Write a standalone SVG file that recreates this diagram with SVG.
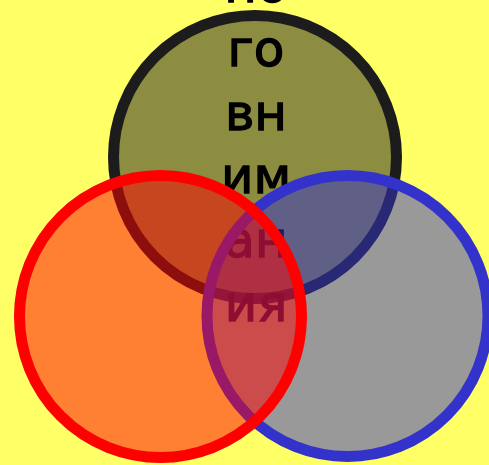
<svg xmlns="http://www.w3.org/2000/svg" width="489" height="465" viewBox="0 0 489 465">
<style>
.c{stroke-width:11;fill-opacity:0.5}
.t{font-family:"DejaVu Sans",sans-serif;font-size:50px;fill:#000;stroke:#000;stroke-width:1.3;text-anchor:middle}
</style>
<rect width="489" height="465" fill="#FFFF66"/>
<g id="top-circle">
<circle class="c" cx="255" cy="157" r="141.5" fill="#1C1C1C" stroke="#1C1C1C"/>
</g>
<g id="label">
<text class="t" x="256" y="2">по</text>
<text class="t" x="256" y="66">го</text>
<text class="t" x="256" y="130">вн</text>
<text class="t" x="256" y="193">им</text>
<text class="t" x="256" y="257">ан</text>
<text class="t" x="256" y="321">ия</text>
</g>
<g id="right-circle">
<circle class="c" cx="347.5" cy="316" r="140.5" fill="#3333CC" stroke="#3333CC"/>
</g>
<g id="left-circle">
<circle class="c" cx="160.5" cy="316.5" r="141" fill="#FF0000" stroke="#FF0000"/>
</g>
<g id="connectors"/>
</svg>
